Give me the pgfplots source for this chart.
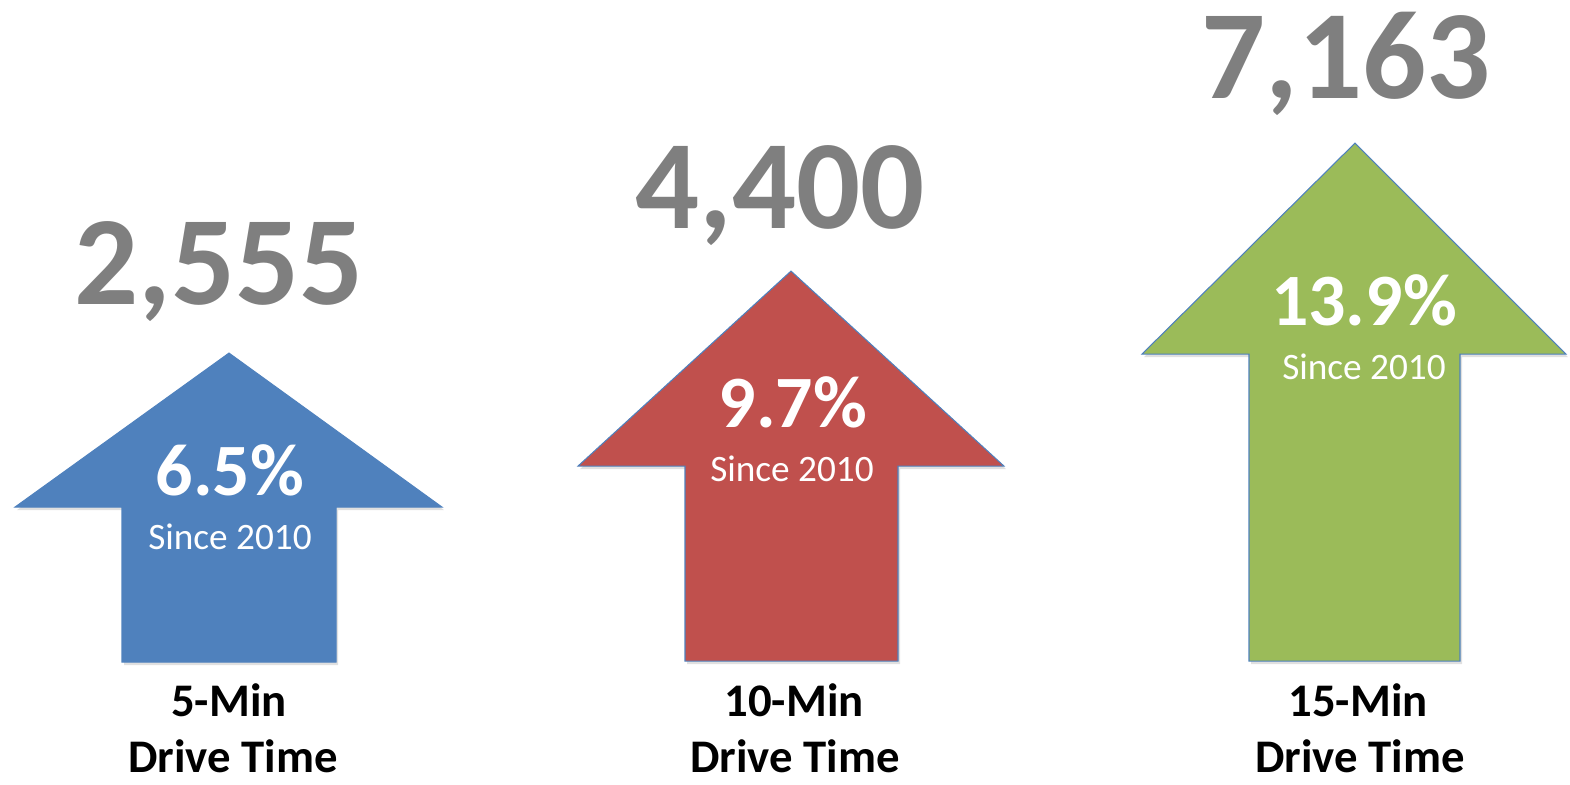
\documentclass[border=0pt]{standalone}
\usepackage{pgfplots}
\pgfplotsset{compat=1.18}
\usepackage{fontspec}
\setmainfont{Carlito}
\definecolor{arrblue}{HTML}{4F81BD}
\definecolor{arrred}{HTML}{C0504D}
\definecolor{arrgreen}{HTML}{9BBB59}
\definecolor{numgray}{HTML}{7F7F7F}
\begin{document}
\begin{tikzpicture}
\begin{axis}[
    width=157mm, height=77.5mm, scale only axis,
    xmin=0, xmax=1570, ymin=0, ymax=775,
    y dir=reverse,
    hide axis, clip=false,
]
% page corners
\addplot[draw=none] coordinates {(0,0) (1570,775)};

% soft shadows
\addplot[fill=black, fill opacity=0.12, draw=none] coordinates {
    (230,353) (444,508) (338,508) (338,663) (124,663) (124,508) (17,508)} -- cycle;
\addplot[fill=black, fill opacity=0.12, draw=none] coordinates {
    (793,272) (1006,467) (900,467) (900,662) (687,662) (687,467) (580,467)} -- cycle;
\addplot[fill=black, fill opacity=0.12, draw=none] coordinates {
    (1357,144) (1568,355) (1462,355) (1462,662) (1251,662) (1251,355) (1144,355)} -- cycle;

% arrows: 5-min, 10-min, 15-min
\addplot[fill=arrblue, draw=arrblue, line width=0.3pt] coordinates {
    (229,351) (442,505) (336,505) (336,660) (122,660) (122,505) (15,505)} -- cycle;
\addplot[fill=arrred, draw=arrblue, line width=0.3pt] coordinates {
    (791,269) (1004,464) (898,464) (898,659) (685,659) (685,464) (578,464)} -- cycle;
\addplot[fill=arrgreen, draw=arrblue, line width=0.3pt] coordinates {
    (1355,141) (1566,352) (1460,352) (1460,659) (1249,659) (1249,352) (1142,352)} -- cycle;

% counts
\node[anchor=base, text=numgray, font=\fontsize{36}{40}\selectfont\bfseries] at (axis cs:219,302) {2,555};
\node[anchor=base, text=numgray, font=\fontsize{36}{40}\selectfont\bfseries] at (axis cs:780,226) {4,400};
\node[anchor=base, text=numgray, font=\fontsize{36}{40}\selectfont\bfseries] at (axis cs:1346,96) {7,163};

% growth
\node[anchor=base, text=white, font=\fontsize{21}{24}\selectfont\bfseries] at (axis cs:230,493) {6.5\%};
\node[anchor=base, text=white, font=\fontsize{21}{24}\selectfont\bfseries] at (axis cs:793,425) {9.7\%};
\node[anchor=base, text=white, font=\fontsize{21}{24}\selectfont\bfseries] at (axis cs:1364,323) {13.9\%};
\node[anchor=base, text=white, font=\fontsize{10.6}{12}\selectfont] at (axis cs:230,547) {Since 2010};
\node[anchor=base, text=white, font=\fontsize{10.6}{12}\selectfont] at (axis cs:792,479) {Since 2010};
\node[anchor=base, text=white, font=\fontsize{10.6}{12}\selectfont] at (axis cs:1364,377) {Since 2010};

% category labels
\node[anchor=base, font=\fontsize{13.3}{15}\selectfont\bfseries] at (axis cs:229,714) {5-Min};
\node[anchor=base, font=\fontsize{13.3}{15}\selectfont\bfseries] at (axis cs:233,770) {Drive Time};
\node[anchor=base, font=\fontsize{13.3}{15}\selectfont\bfseries] at (axis cs:794,714) {10-Min};
\node[anchor=base, font=\fontsize{13.3}{15}\selectfont\bfseries] at (axis cs:795,770) {Drive Time};
\node[anchor=base, font=\fontsize{13.3}{15}\selectfont\bfseries] at (axis cs:1358,714) {15-Min};
\node[anchor=base, font=\fontsize{13.3}{15}\selectfont\bfseries] at (axis cs:1360,770) {Drive Time};
\end{axis}
\end{tikzpicture}
\end{document}
